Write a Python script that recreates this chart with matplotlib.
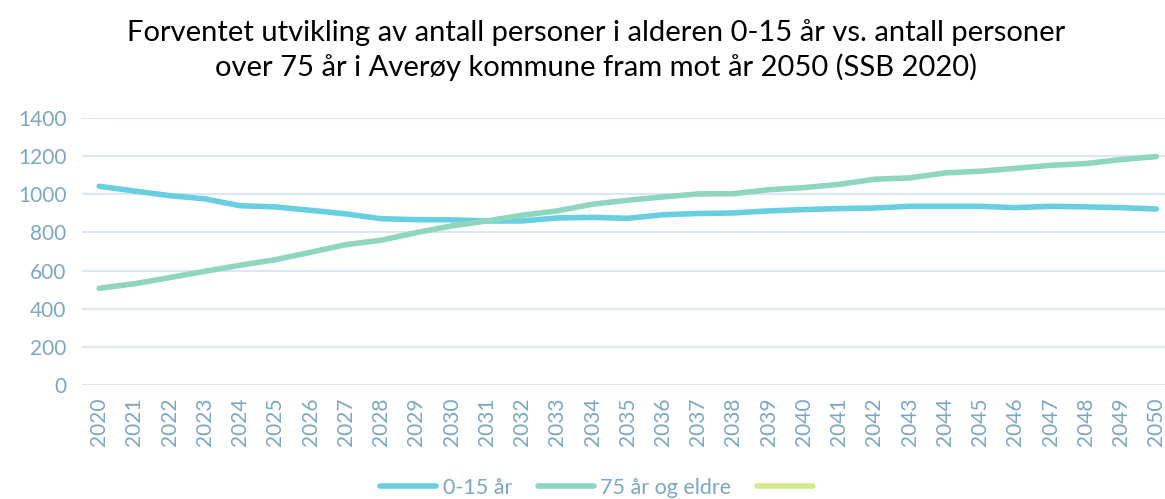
import matplotlib
matplotlib.use("Agg")
import matplotlib.pyplot as plt
from matplotlib.lines import Line2D

years = [str(y) for y in range(2020, 2051)]
young = [1042, 1017, 993, 976, 940, 934, 916, 897, 872, 867, 866, 860, 860, 876, 879,
         874, 893, 899, 902, 913, 920, 925, 928, 937, 937, 937, 930, 937, 934, 930, 923]
old = [507, 531, 563, 596, 628, 657, 696, 736, 759, 799, 834, 860, 890, 913, 948,
       969, 986, 1002, 1003, 1024, 1035, 1052, 1079, 1086, 1112, 1121, 1136, 1152, 1161, 1182, 1198]
labels = ["0-15 år", "75 år og eldre", ""]
yticks = [0, 200, 400, 600, 800, 1000, 1200, 1400]

plt.rcParams['font.family'] = ['Lato', 'DejaVu Sans']
tick_color = '#7BA7C2'
c_young = '#68CFE0'
c_old = '#8ED6BE'
c_third = '#D4E88C'

fig = plt.figure(figsize=(11.65, 4.99), dpi=100)
ax = fig.add_axes([0.070, 0.2285, 0.9377, 0.535])
x = list(range(len(years)))
ax.plot(x, young, color=c_young, lw=4.0, solid_capstyle='round', solid_joinstyle='round', zorder=3)
ax.plot(x, old, color=c_old, lw=4.0, solid_capstyle='round', solid_joinstyle='round', zorder=3)

ax.set_xlim(-0.5, len(years) - 0.5)
ax.set_ylim(0, 1400)
ax.set_yticks(yticks)
ax.set_yticklabels([str(v) for v in yticks])
ax.set_xticks(x)
ax.set_xticklabels(years, rotation=90)
ax.tick_params(axis='both', colors=tick_color, labelsize=15, length=0)
ax.tick_params(axis='x', pad=9)
ax.tick_params(axis='y', pad=11)
for s in ax.spines.values():
    s.set_visible(False)
ax.grid(axis='y', color='#DDE7F1', lw=1.5, zorder=0)
ax.set_axisbelow(True)

fig.text(0.512, 0.9, "Forventet utvikling av antall personer i alderen 0-15 år vs. antall personer\nover 75 år i Averøy kommune fram mot år 2050 (SSB 2020)",
         ha='center', va='center', fontsize=21, color='#000000', linespacing=1.3)

handles = [Line2D([], [], color=c, lw=4.0, solid_capstyle='round') for c in (c_young, c_old, c_third)]
leg = fig.legend(handles, labels, loc='center', bbox_to_anchor=(0.515, 0.022), ncol=3, frameon=False,
                 fontsize=15.5, labelcolor=tick_color, handlelength=2.6, handletextpad=0.3, columnspacing=1.2)
fig.savefig("out.png", dpi=100)
